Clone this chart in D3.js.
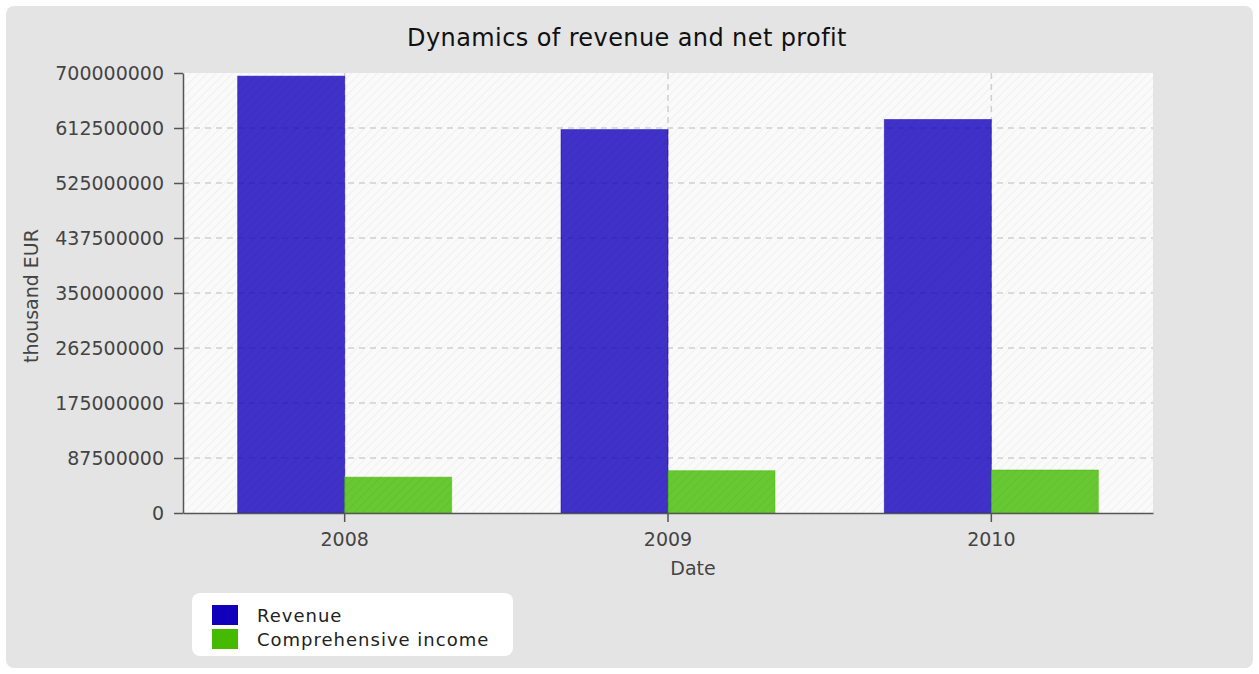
<!DOCTYPE html>
<html>
<head>
<meta charset="utf-8">
<script src="https://cdn.jsdelivr.net/npm/d3@7"></script>
<style>
  body { margin: 0; background: #fff; }
  svg { display: block; font-family: "DejaVu Sans", sans-serif; }
</style>
</head>
<body>
<div id="chart"></div>
<script>
// values
let years = ["2008", "2009", "2010"];
let revenue = [695000000, 610000000, 626000000];
let income = [57000000, 67300000, 68400000];
let seriesNames = ["Revenue", "Comprehensive income"];
let seriesColors = ["#1100bb", "#44bb00"];
let yTicks = [0, 87500000, 175000000, 262500000, 350000000, 437500000, 525000000, 612500000, 700000000];

let width = 1259, height = 674;
let plot = {left: 183, right: 1153, top: 73, bottom: 513};

let svg = d3.select("#chart").append("svg")
    .attr("width", width)
    .attr("height", height);

let defs = svg.append("defs");
// faint diagonal hatching, used on the plot background and over the bars
let hatch = defs.append("pattern")
    .attr("id", "hatch")
    .attr("patternUnits", "userSpaceOnUse")
    .attr("width", 6).attr("height", 6)
    .attr("patternTransform", "rotate(-45)");
hatch.append("rect").attr("width", 6).attr("height", 6).attr("fill", "#fafafa");
hatch.append("line").attr("x1", 0).attr("y1", 0).attr("x2", 6).attr("y2", 0)
    .attr("stroke", "#f0f0f0").attr("stroke-width", 2);

let hatchBar = defs.append("pattern")
    .attr("id", "hatchBar")
    .attr("patternUnits", "userSpaceOnUse")
    .attr("width", 6).attr("height", 6)
    .attr("patternTransform", "rotate(-45)");
hatchBar.append("line").attr("x1", 0).attr("y1", 0).attr("x2", 6).attr("y2", 0)
    .attr("stroke", "#000").attr("stroke-opacity", 0.04).attr("stroke-width", 2);

// outer panel
svg.append("rect")
    .attr("x", 6).attr("y", 6)
    .attr("width", 1247).attr("height", 662)
    .attr("rx", 8)
    .attr("fill", "#e4e4e4");

svg.append("text")
    .attr("x", 627).attr("y", 46)
    .attr("text-anchor", "middle")
    .attr("font-size", 24)
    .attr("letter-spacing", 0.4)
    .attr("fill", "#111")
    .text("Dynamics of revenue and net profit");

let x0 = d3.scaleBand().domain(years).range([plot.left, plot.right]);
let x1 = d3.scaleBand().domain(d3.range(2)).range([0, 214]);
let groupOffset = (x0.bandwidth() - 214) / 2;
let y = d3.scaleLinear().domain([0, 700000000]).range([plot.bottom, plot.top]);

svg.append("rect")
    .attr("x", plot.left).attr("y", plot.top)
    .attr("width", plot.right - plot.left).attr("height", plot.bottom - plot.top)
    .attr("fill", "url(#hatch)");

// gridlines (none on the top edge)
svg.append("g")
  .selectAll("line")
  .data(yTicks.slice(1, -1))
  .join("line")
    .attr("x1", plot.left).attr("x2", plot.right)
    .attr("y1", d => y(d)).attr("y2", d => y(d))
    .attr("stroke", "#cfcfcf")
    .attr("stroke-width", 1.5)
    .attr("stroke-dasharray", "6,5");

svg.append("g")
  .selectAll("line")
  .data(years)
  .join("line")
    .attr("x1", d => x0(d) + x0.bandwidth() / 2).attr("x2", d => x0(d) + x0.bandwidth() / 2)
    .attr("y1", plot.top).attr("y2", plot.bottom)
    .attr("stroke", "#cfcfcf")
    .attr("stroke-width", 1.5)
    .attr("stroke-dasharray", "6,5");

// bars
let rows = years.map((yr, i) => ({year: yr, values: [revenue[i], income[i]]}));
let groups = svg.append("g")
  .selectAll("g")
  .data(rows)
  .join("g")
    .attr("transform", d => `translate(${x0(d.year) + groupOffset},0)`);

groups.selectAll("rect.bar")
  .data(d => d.values)
  .join("rect")
    .attr("class", "bar")
    .attr("x", (d, i) => x1(i))
    .attr("y", d => y(d))
    .attr("width", x1.bandwidth())
    .attr("height", d => y(0) - y(d))
    .attr("fill", (d, i) => seriesColors[i])
    .attr("fill-opacity", 0.8)
    .attr("stroke", (d, i) => seriesColors[i])
    .attr("stroke-opacity", 0.5);

groups.selectAll("rect.hatch")
  .data(d => d.values)
  .join("rect")
    .attr("class", "hatch")
    .attr("x", (d, i) => x1(i))
    .attr("y", d => y(d))
    .attr("width", x1.bandwidth())
    .attr("height", d => y(0) - y(d))
    .attr("fill", "url(#hatchBar)");

// axes
let yAxis = svg.append("g")
    .attr("transform", `translate(${plot.left},0)`)
    .call(d3.axisLeft(y).tickValues(yTicks).tickFormat(d3.format("d"))
      .tickSizeInner(9).tickSizeOuter(0).tickPadding(10));
let xAxis = svg.append("g")
    .attr("transform", `translate(0,${plot.bottom})`)
    .call(d3.axisBottom(x0).tickSizeInner(9).tickSizeOuter(0).tickPadding(11));

[yAxis, xAxis].forEach(a => {
  a.select(".domain").attr("stroke", "#555").attr("stroke-width", 1.5);
  a.selectAll(".tick line").attr("stroke", "#555").attr("stroke-width", 1.5);
  a.selectAll(".tick text").attr("fill", "#444").attr("font-size", 19).attr("font-family", "DejaVu Sans, sans-serif");
});

svg.append("text")
    .attr("x", 693).attr("y", 575)
    .attr("text-anchor", "middle")
    .attr("font-size", 19)
    .attr("fill", "#444")
    .text("Date");

svg.append("text")
    .attr("transform", `translate(38,${(plot.top + plot.bottom) / 2 + 3}) rotate(-90)`)
    .attr("text-anchor", "middle")
    .attr("font-size", 19)
    .attr("fill", "#444")
    .text("thousand EUR");

// legend
let legend = svg.append("g");
legend.append("rect")
    .attr("x", 192).attr("y", 593)
    .attr("width", 321).attr("height", 63)
    .attr("rx", 8)
    .attr("fill", "#fff");

let items = legend.selectAll("g.item")
  .data(seriesNames)
  .join("g")
    .attr("class", "item")
    .attr("transform", (d, i) => `translate(212,${605 + i * 24})`);
items.append("rect")
    .attr("width", 26).attr("height", 20)
    .attr("fill", (d, i) => seriesColors[i]);
items.append("text")
    .attr("x", 45).attr("y", 17)
    .attr("font-size", 18)
    .attr("letter-spacing", 1)
    .attr("fill", "#222")
    .text(d => d);
</script>
</body>
</html>
